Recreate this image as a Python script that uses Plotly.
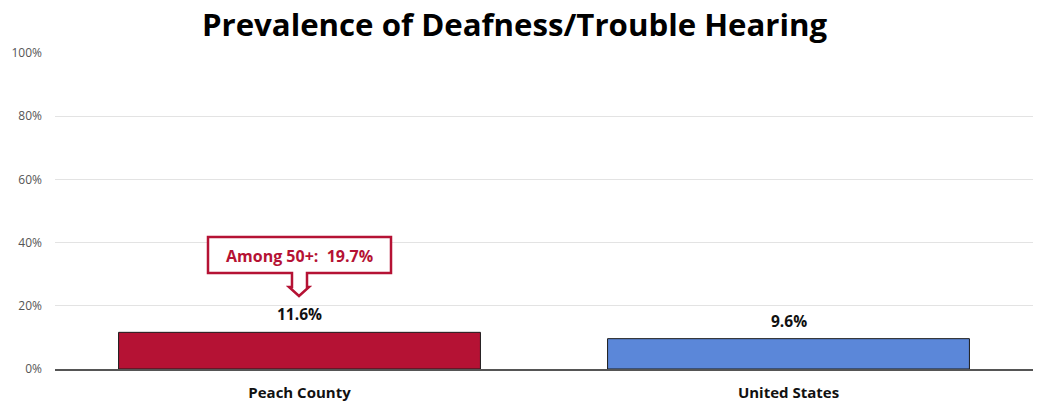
import plotly.graph_objects as go

categories = ["Peach County", "United States"]
values = [11.6, 9.6]
colors = ["#B51234", "#5B87D9"]
callout_text = "Among 50+:  19.7%"
tick_vals = [0, 20, 40, 60, 80, 100]
tick_text = ["0%", "20%", "40%", "60%", "80%", "100%"]

W, H = 1037, 402
L, R, T, B = 55, 4, 53, 33
pw, ph = W - L - R, H - T - B

fig = go.Figure()
fig.add_trace(go.Bar(
    x=categories, y=values,
    marker=dict(color=colors, line=dict(color="#1a1a1a", width=1)),
    width=0.74,
))
for c, v in zip(categories, values):
    fig.add_annotation(x=c, y=v, text=f"<b>{v:.1f}%</b>", showarrow=False,
                       xanchor="center", yanchor="bottom", yshift=5,
                       font=dict(family="Open Sans", size=15.5, color="#111111"))

def px(x):
    return (x - L) / pw

def py(y):
    return (H - B - y) / ph

# callout box with down arrow (pixel layout converted to paper coords)
pts = [(208, 237), (391, 237), (391, 273), (307, 273), (307, 287), (309, 287),
       (299, 296), (289, 287), (292, 287), (292, 273), (208, 273)]
path = "M " + " L ".join(f"{px(a):.5f},{py(b):.5f}" for a, b in pts) + " Z"
fig.add_shape(type="path", path=path, xref="paper", yref="paper",
              line=dict(color="#B51234", width=2.5), fillcolor="white", layer="above")
fig.add_annotation(text=f"<b>{callout_text}</b>", x=px(299.5), y=py(256), xref="paper", yref="paper",
                   xanchor="center", yanchor="middle",
                   showarrow=False, font=dict(family="Open Sans", size=16, color="#B51234"))

fig.update_layout(
    width=W, height=H,
    margin=dict(l=L, r=R, t=T, b=B),
    plot_bgcolor="white", paper_bgcolor="white",
    title=dict(text="<b>Prevalence of Deafness/Trouble Hearing</b>", x=514.5 / W, xanchor="center",
               y=1 - 25 / H, yanchor="middle",
               font=dict(family="Open Sans", size=31.2, color="#000000")),
    showlegend=False,
)
fig.update_yaxes(range=[0, 100], tickvals=tick_vals, ticktext=tick_text,
                 showgrid=True, gridcolor="#e3e3e3", gridwidth=1,
                 zeroline=False, tickfont=dict(family="Open Sans", size=12, color="#555555"),
                 ticks="", ticklen=0, ticklabelstandoff=12, automargin=False)
fig.update_xaxes(showline=True, linecolor="#555555", linewidth=1.5,
                 tickfont=dict(family="Open Sans", size=15, color="#111111"),
                 tickprefix="<b>", ticksuffix="</b>", ticklabelstandoff=9, automargin=False)
fig.write_html("out.html", post_script="document.body.style.margin='0';",
               config={"displayModeBar": False})
